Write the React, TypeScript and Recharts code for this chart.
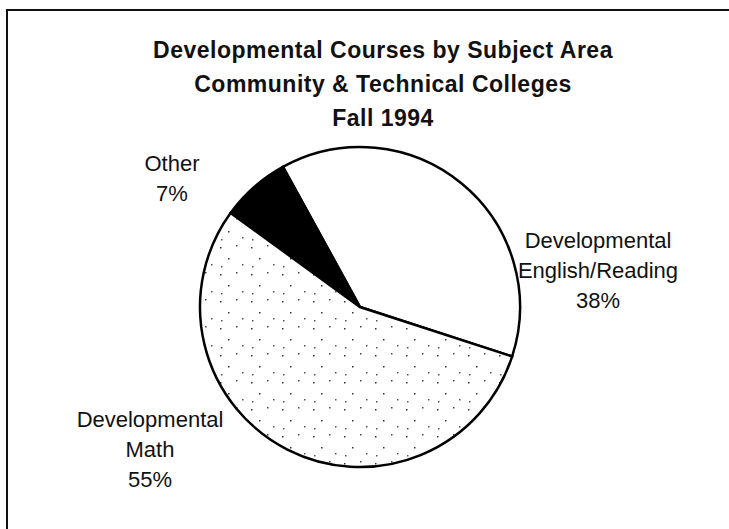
import React from 'react';
import { PieChart, Pie, Cell } from 'recharts';

// slices in drawing order (counter-clockwise from the English/Math boundary)
const subjects = ['Developmental English/Reading', 'Other', 'Developmental Math'];
const shares = [38, 7, 55];
const labelLines = [
    ['Developmental', 'English/Reading', '38%'],
    ['Other', '7%'],
    ['Developmental', 'Math', '55%'],
];
const titleLines = [
    'Developmental Courses by Subject Area',
    'Community & Technical Colleges',
    'Fall 1994',
];

const data = subjects.map((name, i) => ({ name, value: shares[i] }));

const FILLS = ['#ffffff', '#000000', 'url(#mathDots)'];
// label block placement relative to pie centre: [dx, first baseline dy]
const LABEL_POS = [
    [238, -59],
    [-188, -136],
    [-210, 120],
];
const FONT = '"Liberation Sans", Arial, Helvetica, sans-serif';

function renderLabel(props: any) {
    const { cx, cy, index } = props;
    const [dx, dy] = LABEL_POS[index];
    return (
        <text
            key={`lbl-${index}`}
            x={cx + dx}
            y={cy + dy}
            textAnchor="middle"
            fontFamily={FONT}
            fontSize={22}
            fill="#111"
        >
            {labelLines[index].map((t, j) => (
                <tspan key={j} x={cx + dx} dy={j === 0 ? 0 : 30}>
                    {t}
                </tspan>
            ))}
        </text>
    );
}

export default function App() {
    return (
        <div style={{ position: 'absolute', left: 0, top: 0, width: 729, height: 529, background: '#fff', overflow: 'hidden' }}>
            <svg width={0} height={0} style={{ position: 'absolute' }}>
                <defs>
                    <pattern id="mathDots" width={31} height={27} patternUnits="userSpaceOnUse">
                        <rect width={31} height={27} fill="#fff" />
                        <rect x={3} y={4} width={1.5} height={1.5} fill="#333" />
                        <rect x={19} y={2} width={1.5} height={1.5} fill="#444" />
                        <rect x={11} y={15} width={1.5} height={1.5} fill="#333" />
                        <rect x={25} y={21} width={1.5} height={1.5} fill="#555" />
                        <rect x={4} y={23} width={1.5} height={1.5} fill="#555" />
                    </pattern>
                </defs>
            </svg>
            <div style={{ position: 'absolute', left: 6, top: 9, width: 723, height: 2, background: '#111' }} />
            <div style={{ position: 'absolute', left: 6, top: 9, width: 2, height: 520, background: '#111' }} />
            <div style={{ position: 'absolute', left: 0, top: 0 }}>
                <PieChart width={729} height={529}>
                    <Pie
                        data={data}
                        dataKey="value"
                        nameKey="name"
                        cx={355}
                        cy={302}
                        outerRadius={160}
                        startAngle={-18}
                        endAngle={342}
                        stroke="#000"
                        strokeWidth={2.5}
                        label={renderLabel}
                        labelLine={false}
                        isAnimationActive={false}
                    >
                        {data.map((d, i) => (
                            <Cell key={d.name} fill={FILLS[i]} stroke="#000" strokeWidth={2.5} />
                        ))}
                    </Pie>
                </PieChart>
            </div>
            <svg width={729} height={529} style={{ position: 'absolute', left: 0, top: 0, pointerEvents: 'none' }}>
                {titleLines.map((t, i) => (
                    <text
                        key={t}
                        x={383}
                        y={58 + i * 34}
                        textAnchor="middle"
                        fontFamily={FONT}
                        fontWeight="bold"
                        fontSize={23}
                        letterSpacing={0.5}
                        fill="#111"
                    >
                        {t}
                    </text>
                ))}
            </svg>
        </div>
    );
}
